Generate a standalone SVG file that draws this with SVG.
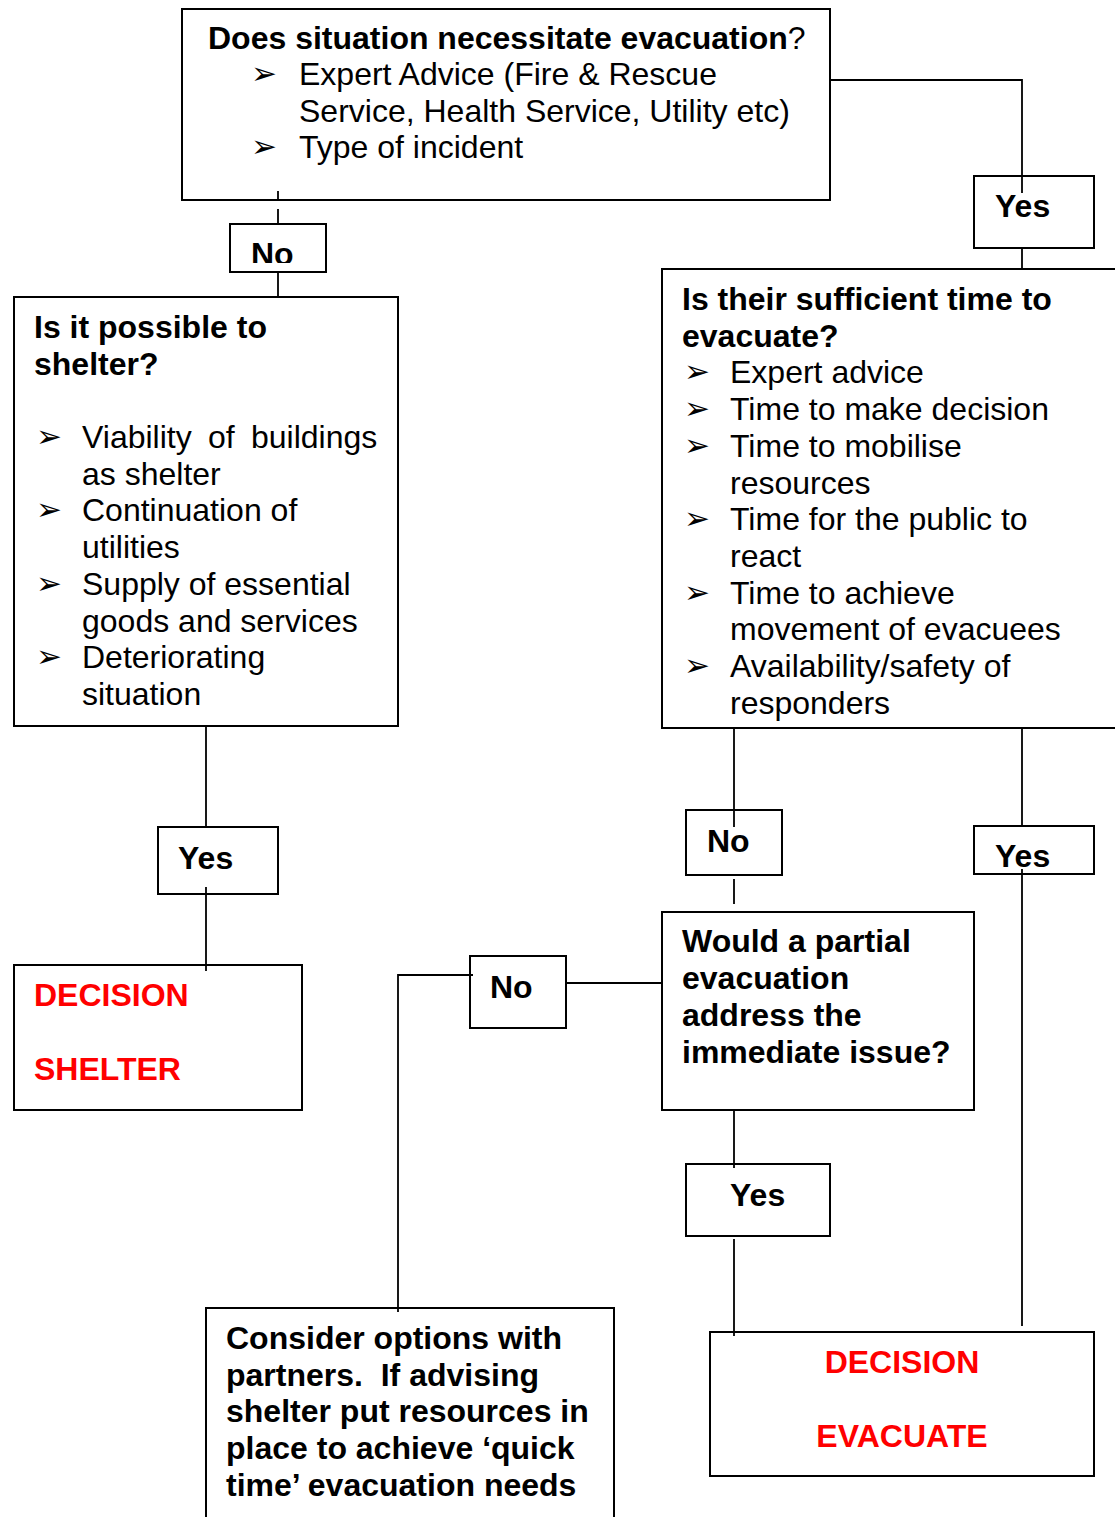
<svg xmlns="http://www.w3.org/2000/svg" width="1115" height="1517" viewBox="0 0 1115 1517">
<defs>
<style>
.box{fill:#fff;stroke:#000;stroke-width:2}
.ln{fill:none;stroke:#000;stroke-width:1.8}
.t{font-family:"Liberation Sans",Arial,sans-serif;font-size:32px;fill:#000}
.b{font-weight:bold}
.n{font-weight:normal}
.red{fill:#ff0000;font-weight:bold}
.bul{font-family:"DejaVu Sans",sans-serif;font-size:31px;fill:#000}
</style>
<clipPath id="c1"><rect x="230" y="224" width="96" height="39"/></clipPath>
<clipPath id="c2"><rect x="974" y="826" width="120" height="46"/></clipPath>
</defs>
<rect width="1115" height="1517" fill="#fff"/>

<g id="nodes">
<g id="q-evacuation">
<rect class="box" x="182" y="9" width="648" height="191"/>
<text class="t b" x="208" y="49">Does situation necessitate evacuation<tspan class="n">?</tspan></text>
<text class="bul" x="251" y="84">➢</text>
<text class="t" x="299" y="85">Expert Advice (Fire &amp; Rescue</text>
<text class="t" x="299" y="122">Service, Health Service, Utility etc)</text>
<text class="bul" x="251" y="157">➢</text>
<text class="t" x="299" y="158">Type of incident</text>
</g>

<g id="label-no-1">
<rect class="box" x="230" y="224" width="96" height="48"/>
<text class="t b" x="251" y="265" clip-path="url(#c1)">No</text>
</g>

<g id="label-yes-1">
<rect class="box" x="974" y="176" width="120" height="72"/>
<text class="t b" x="995" y="217">Yes</text>
</g>

<g id="q-shelter">
<rect class="box" x="14" y="297" width="384" height="429"/>
<text class="t b" x="34" y="338">Is it possible to</text>
<text class="t b" x="34" y="375">shelter?</text>
<text class="bul" x="36" y="447">➢</text>
<text class="t" y="448"><tspan x="82">Viability</tspan><tspan x="208">of</tspan><tspan x="251">buildings</tspan></text>
<text class="t" x="82" y="485">as shelter</text>
<text class="bul" x="36" y="520">➢</text>
<text class="t" x="82" y="521">Continuation of</text>
<text class="t" x="82" y="558">utilities</text>
<text class="bul" x="36" y="594">➢</text>
<text class="t" x="82" y="595">Supply of essential</text>
<text class="t" x="82" y="632">goods and services</text>
<text class="bul" x="36" y="667">➢</text>
<text class="t" x="82" y="668">Deteriorating</text>
<text class="t" x="82" y="705">situation</text>
</g>

<g id="q-time">
<rect class="box" x="662" y="269" width="470" height="459"/>
<text class="t b" x="682" y="310">Is their sufficient time to</text>
<text class="t b" x="682" y="347">evacuate?</text>
<text class="bul" x="684" y="382">➢</text>
<text class="t" x="730" y="383">Expert advice</text>
<text class="bul" x="684" y="419">➢</text>
<text class="t" x="730" y="420">Time to make decision</text>
<text class="bul" x="684" y="456">➢</text>
<text class="t" x="730" y="457">Time to mobilise</text>
<text class="t" x="730" y="494">resources</text>
<text class="bul" x="684" y="529">➢</text>
<text class="t" x="730" y="530">Time for the public to</text>
<text class="t" x="730" y="567">react</text>
<text class="bul" x="684" y="603">➢</text>
<text class="t" x="730" y="604">Time to achieve</text>
<text class="t" x="730" y="640">movement of evacuees</text>
<text class="bul" x="684" y="676">➢</text>
<text class="t" x="730" y="677">Availability/safety of</text>
<text class="t" x="730" y="714">responders</text>
</g>

<g id="label-yes-2">
<rect class="box" x="158" y="827" width="120" height="67"/>
<text class="t b" x="178" y="869">Yes</text>
</g>

<g id="decision-shelter">
<rect class="box" x="14" y="965" width="288" height="145"/>
<text class="t red" x="34" y="1006">DECISION</text>
<text class="t red" x="34" y="1080">SHELTER</text>
</g>

<g id="label-no-2">
<rect class="box" x="686" y="810" width="96" height="65"/>
<text class="t b" x="707" y="852">No</text>
</g>

<g id="label-yes-3">
<rect class="box" x="974" y="826" width="120" height="48"/>
<text class="t b" x="995" y="867" clip-path="url(#c2)">Yes</text>
</g>

<g id="q-partial">
<rect class="box" x="662" y="912" width="312" height="198"/>
<text class="t b" x="682" y="952">Would a partial</text>
<text class="t b" x="682" y="989">evacuation</text>
<text class="t b" x="682" y="1026">address the</text>
<text class="t b" x="682" y="1063">immediate issue?</text>
</g>

<g id="label-no-3">
<rect class="box" x="470" y="956" width="96" height="72"/>
<text class="t b" x="490" y="998">No</text>
</g>

<g id="label-yes-4">
<rect class="box" x="686" y="1164" width="144" height="72"/>
<text class="t b" x="730" y="1206">Yes</text>
</g>

<g id="consider-options">
<rect class="box" x="206" y="1308" width="408" height="230"/>
<text class="t b" x="226" y="1349">Consider options with</text>
<text class="t b" x="226" y="1386" xml:space="preserve">partners.  If advising</text>
<text class="t b" x="226" y="1422">shelter put resources in</text>
<text class="t b" x="226" y="1459">place to achieve ‘quick</text>
<text class="t b" x="226" y="1496">time’ evacuation needs</text>
</g>

<g id="decision-evacuate">
<rect class="box" x="710" y="1332" width="384" height="144"/>
<text class="t red" x="902" y="1373" text-anchor="middle">DECISION</text>
<text class="t red" x="902" y="1447" text-anchor="middle">EVACUATE</text>
</g>
</g>

<g id="connectors">
<path class="ln" d="M278 191 V200 M278 209 V224 M278 272 V297"/>
<path class="ln" d="M830 80 H1022 V193 M1022 248 V269"/>
<path class="ln" d="M206 726 V827 M206 887 V971"/>
<path class="ln" d="M734 728 V827 M734 879 V904"/>
<path class="ln" d="M1022 728 V826 M1022 869 V1326"/>
<path class="ln" d="M566 983 H662"/>
<path class="ln" d="M473 975 H398 V1312"/>
<path class="ln" d="M734 1110 V1168 M734 1239 V1336"/>
</g>
</svg>
